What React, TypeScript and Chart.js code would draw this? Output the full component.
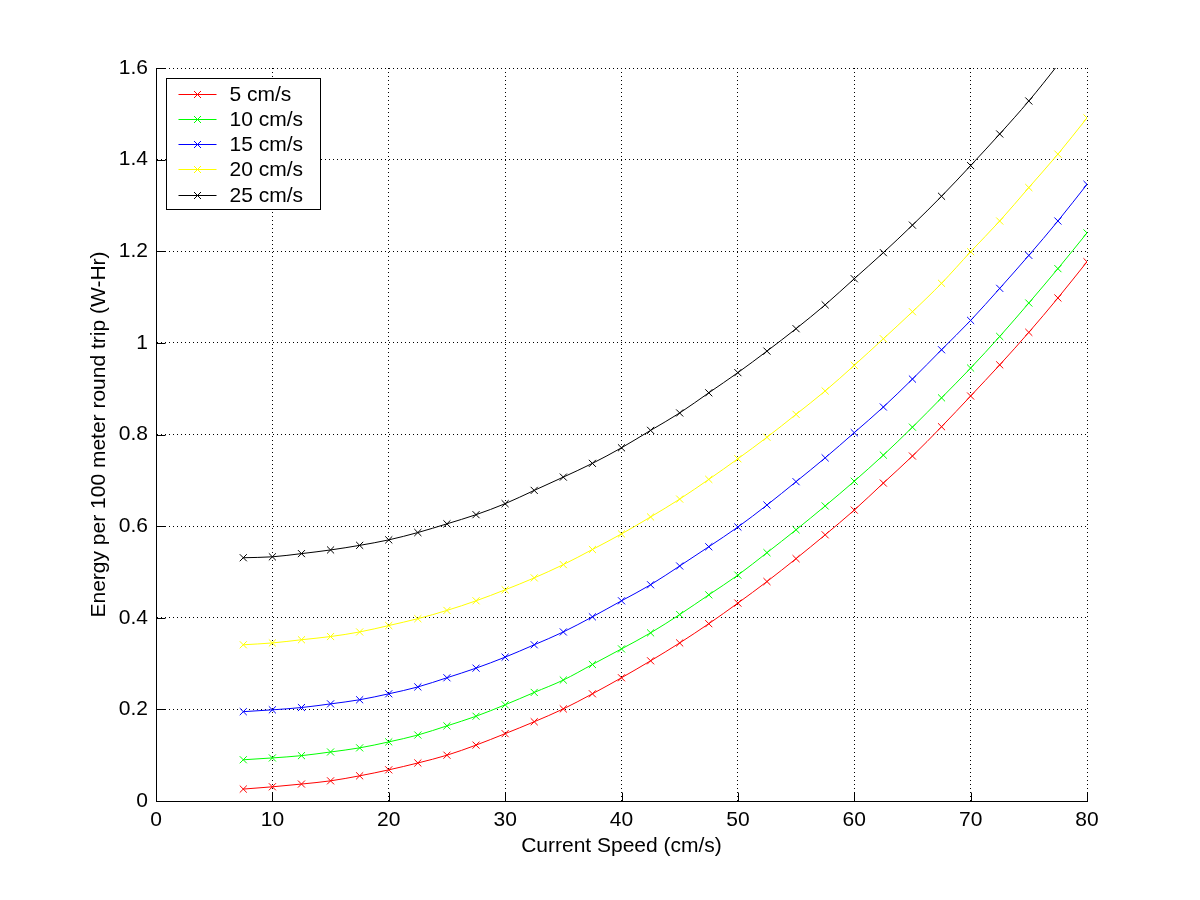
import React, { useEffect, useRef } from "react";
import { Chart, registerables } from "chart.js";

Chart.register(...registerables);

const speeds = [7.5, 10, 12.5, 15, 17.5, 20, 22.5, 25, 27.5, 30, 32.5, 35, 37.5, 40, 42.5, 45, 47.5, 50, 52.5, 55, 57.5, 60, 62.5, 65, 67.5, 70, 72.5, 75, 77.5, 80];

const seriesLabels = ["5 cm/s", "10 cm/s", "15 cm/s", "20 cm/s", "25 cm/s"];
const seriesColors = ["#ff0000", "#00ff00", "#0000ff", "#ffff00", "#000000"];

const red5 = [0.026, 0.031, 0.037, 0.044, 0.055, 0.068, 0.083, 0.100, 0.122, 0.147, 0.173, 0.201, 0.234, 0.269, 0.306, 0.345, 0.387, 0.432, 0.479, 0.529, 0.581, 0.635, 0.694, 0.753, 0.817, 0.884, 0.952, 1.023, 1.098, 1.177];
const green10 = [0.090, 0.094, 0.099, 0.107, 0.116, 0.129, 0.144, 0.164, 0.185, 0.210, 0.237, 0.264, 0.298, 0.332, 0.367, 0.407, 0.450, 0.493, 0.542, 0.592, 0.644, 0.698, 0.755, 0.816, 0.880, 0.945, 1.014, 1.087, 1.162, 1.240];
const blue15 = [0.195, 0.199, 0.204, 0.212, 0.221, 0.234, 0.249, 0.269, 0.290, 0.314, 0.341, 0.369, 0.402, 0.437, 0.472, 0.513, 0.555, 0.598, 0.646, 0.697, 0.749, 0.804, 0.860, 0.921, 0.985, 1.049, 1.119, 1.191, 1.266, 1.346];
const yellow20 = [0.341, 0.345, 0.352, 0.359, 0.369, 0.383, 0.398, 0.416, 0.437, 0.461, 0.487, 0.516, 0.549, 0.583, 0.620, 0.659, 0.702, 0.747, 0.794, 0.844, 0.895, 0.951, 1.009, 1.068, 1.130, 1.199, 1.266, 1.339, 1.412, 1.491];
const black25 = [0.531, 0.533, 0.540, 0.548, 0.558, 0.570, 0.586, 0.605, 0.625, 0.649, 0.678, 0.707, 0.737, 0.771, 0.809, 0.847, 0.891, 0.935, 0.982, 1.031, 1.083, 1.140, 1.197, 1.257, 1.320, 1.387, 1.456, 1.528, 1.607, 1.690];

const seriesValues = [red5, green10, blue15, yellow20, black25];

const xTitle = "Current Speed (cm/s)";
const yTitle = "Energy per 100 meter round trip (W-Hr)";

const FONT = "'Liberation Sans', Arial, Helvetica, sans-serif";
const FS = 21;

function drawX(ctx: CanvasRenderingContext2D, x: number, y: number, h: number) {
  ctx.moveTo(x - h, y - h);
  ctx.lineTo(x + h, y + h);
  ctx.moveTo(x - h, y + h);
  ctx.lineTo(x + h, y - h);
}

const overlayPlugin = {
  id: "matlabOverlay",
  afterDatasetsDraw(chart: any) {
    const { ctx, chartArea, scales } = chart;
    const xs = scales.x;
    const ys = scales.y;
    ctx.save();
    // axis lines
    ctx.strokeStyle = "#000";
    ctx.lineWidth = 1;
    ctx.setLineDash([]);
    ctx.beginPath();
    const L = Math.round(chartArea.left) + 0.5;
    const B = Math.round(chartArea.bottom) + 0.5;
    ctx.moveTo(L, Math.round(chartArea.top));
    ctx.lineTo(L, B);
    ctx.lineTo(Math.round(chartArea.right) + 1, B);
    // inward tick marks
    const tl = 9;
    for (const t of xs.ticks) {
      const px = Math.round(xs.getPixelForValue(t.value)) + 0.5;
      ctx.moveTo(px, B);
      ctx.lineTo(px, B - tl);
    }
    for (const t of ys.ticks) {
      const py = Math.round(ys.getPixelForValue(t.value)) + 0.5;
      ctx.moveTo(L, py);
      ctx.lineTo(L + tl, py);
    }
    ctx.stroke();

    // legend box
    const bx = Math.round(chartArea.left) + 10.5;
    const by = Math.round(chartArea.top) + 10.5;
    const bw = 154;
    const bh = 131;
    ctx.fillStyle = "#fff";
    ctx.fillRect(bx, by, bw, bh);
    ctx.strokeStyle = "#000";
    ctx.strokeRect(bx, by, bw, bh);
    ctx.font = FS + "px " + FONT;
    ctx.textBaseline = "middle";
    ctx.textAlign = "left";
    chart.data.datasets.forEach((ds: any, i: number) => {
      const ry = Math.round(by + 15 + i * 25.3) + 0.5;
      ctx.strokeStyle = ds.borderColor;
      ctx.beginPath();
      ctx.moveTo(bx + 12, ry);
      ctx.lineTo(bx + 50, ry);
      drawX(ctx, bx + 31, ry, 3.5);
      ctx.stroke();
      ctx.fillStyle = "#000";
      ctx.fillText(ds.label, bx + 63, ry + 1);
    });
    ctx.restore();
  },
};

export default function App() {
  const canvasRef = useRef<HTMLCanvasElement | null>(null);

  useEffect(() => {
    const canvas = canvasRef.current;
    if (!canvas) return;
    const datasets = seriesLabels.map((label, i) => ({
      label,
      data: speeds.map((s, j) => ({ x: s, y: seriesValues[i][j] })),
      borderColor: seriesColors[i],
      backgroundColor: seriesColors[i],
      borderWidth: 1,
      pointStyle: "crossRot" as const,
      pointRadius: 5,
      pointHoverRadius: 5,
      pointBorderWidth: 1,
      pointBorderColor: seriesColors[i],
      cubicInterpolationMode: "monotone" as const,
      fill: false,
    }));

    const chart = new Chart(canvas, {
      type: "line",
      data: { datasets },
      options: {
        responsive: false,
        animation: false,
        devicePixelRatio: 1,
        layout: { padding: { top: 68, right: 113, left: 0, bottom: 0 } },
        plugins: {
          legend: { display: false },
          tooltip: { enabled: false },
          title: { display: false },
        },
        events: [],
        scales: {
          x: {
            type: "linear",
            min: 0,
            max: 80,
            afterFit: (scale: any) => {
              scale.height = 99;
            },
            ticks: {
              stepSize: 10,
              color: "#000",
              padding: 7,
              maxRotation: 0,
              font: { family: FONT, size: FS },
            },
            grid: {
              color: "#000",
              lineWidth: 1,
              drawTicks: false,
            },
            border: { display: true, color: "#000", width: 1, dash: [1, 3] },
            title: {
              display: true,
              text: xTitle,
              color: "#000",
              font: { family: FONT, size: FS },
              padding: { top: 0, bottom: 41 },
            },
          },
          y: {
            type: "linear",
            min: 0,
            max: 1.6,
            afterFit: (scale: any) => {
              scale.width = 156;
            },
            ticks: {
              stepSize: 0.2,
              color: "#000",
              padding: 8,
              font: { family: FONT, size: FS },
              callback: (v: any) => String(Number(Number(v).toFixed(1))),
            },
            grid: {
              color: "#000",
              lineWidth: 1,
              drawTicks: false,
            },
            border: { display: true, color: "#000", width: 1, dash: [1, 3] },
            title: {
              display: true,
              text: yTitle,
              color: "#000",
              font: { family: FONT, size: FS },
              padding: { top: 87, bottom: 0 },
            },
          },
        },
      },
      plugins: [overlayPlugin],
    } as any);

    return () => {
      chart.destroy();
    };
  }, []);

  return (
    <div style={{ position: "absolute", left: 0, top: 0, width: 1200, height: 900, background: "#fff" }}>
      <canvas ref={canvasRef} width={1200} height={900} style={{ display: "block", width: 1200, height: 900 }} />
    </div>
  );
}
